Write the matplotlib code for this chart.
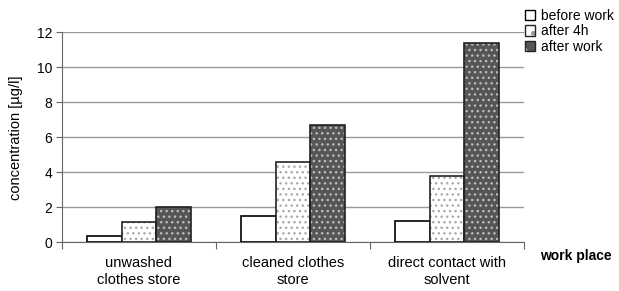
import numpy as np
import matplotlib.pyplot as plt
from matplotlib.patches import Patch

plt.rcParams['font.family'] = ['Liberation Sans', 'DejaVu Sans']
plt.rcParams['font.size'] = 10

categories = ['unwashed\nclothes store', 'cleaned clothes\nstore', 'direct contact with\nsolvent']
series = ['before work', 'after 4h', 'after work']
before_work = [0.35, 1.5, 1.2]
after_4h = [1.15, 4.6, 3.8]
after_work = [2.0, 6.7, 11.4]
y_ticks = [0, 2, 4, 6, 8, 10, 12]


def main():
    fig = plt.figure(figsize=(6.19, 2.91), dpi=100)
    ax = fig.add_axes([62 / 619, 48.7 / 291, 462 / 619, 210 / 291])

    x = np.arange(len(categories))
    bw = 0.224
    values = [before_work, after_4h, after_work]
    fills = ['white', 'white', '#555555']
    dot_colors = [None, '#aaaaaa', '#bbbbbb']

    for i, (vals, fc, dc) in enumerate(zip(values, fills, dot_colors)):
        pos = x + (i - 1) * bw
        if dc is None:
            ax.bar(pos, vals, bw, color=fc, edgecolor='black', linewidth=1.2, zorder=3)
        else:
            ax.bar(pos, vals, bw, color=fc, edgecolor=dc, hatch='...', linewidth=0, zorder=3)
            ax.bar(pos, vals, bw, fill=False, edgecolor='#222222', linewidth=1.2, zorder=4)

    ax.set_xlim(-0.5, 2.5)
    ax.set_ylim(0, 12)
    ax.set_yticks(y_ticks)
    ax.yaxis.grid(True, color='#999999', linewidth=1)
    ax.set_axisbelow(True)

    ax.set_xticks([-0.5, 0.5, 1.5, 2.5])
    ax.set_xticklabels([])
    ax.set_xticks(x, minor=True)
    ax.set_xticklabels(categories, minor=True, linespacing=1.3, fontsize=10.5)
    ax.tick_params(axis='x', which='minor', length=0, pad=10)
    ax.tick_params(axis='x', which='major', length=5, color='#666666')
    ax.tick_params(axis='y', length=4, color='#666666', pad=3)

    for s in ['top', 'right']:
        ax.spines[s].set_visible(False)
    for s in ['left', 'bottom']:
        ax.spines[s].set_color('#666666')

    ax.set_ylabel('concentration [µg/l]', labelpad=10, fontsize=10.5)
    fig.text(540 / 619, 1 - 256 / 291, 'work place', fontweight='bold', va='center', ha='left')

    outline = Patch(fill=False, edgecolor='#222222', linewidth=1)
    handles = [
        Patch(facecolor='white', edgecolor='black', linewidth=1),
        (Patch(facecolor='white', edgecolor='#999999', hatch='.', linewidth=0), outline),
        (Patch(facecolor='#555555', edgecolor='#bbbbbb', hatch='.', linewidth=0), outline),
    ]
    fig.legend(handles, series, loc='upper left', bbox_to_anchor=(525 / 619, 1 - 9 / 291),
               frameon=False, handlelength=0.75, handleheight=0.75, handletextpad=0.4,
               labelspacing=0.1, borderpad=0, borderaxespad=0)

    fig.savefig('out.png', dpi=100)


if __name__ == '__main__':
    main()
